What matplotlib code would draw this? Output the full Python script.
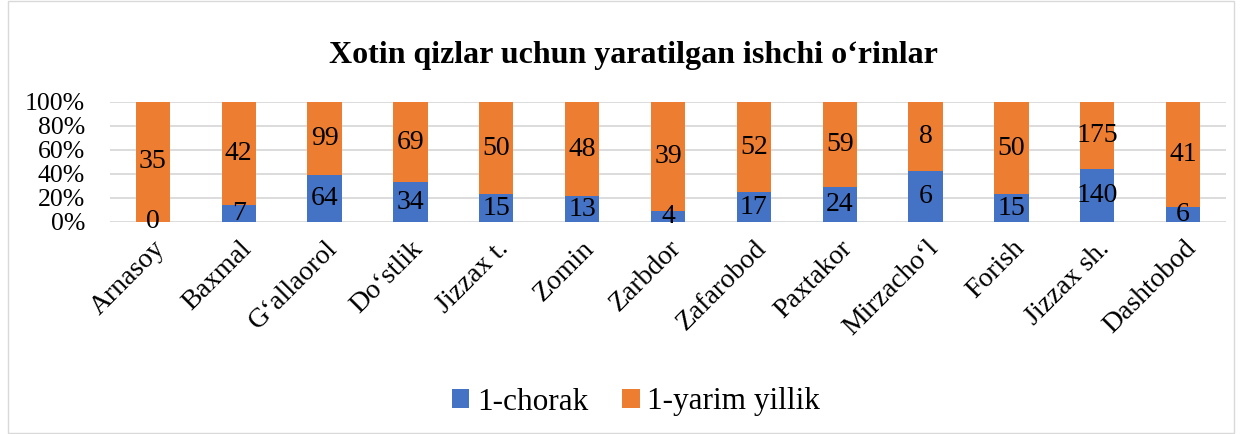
import numpy as np
from matplotlib import pyplot as plt
from matplotlib.patches import Rectangle

plt.rcParams['font.family'] = ['Liberation Serif', 'DejaVu Serif']

#--------données----------------
tumanlar = ['Arnasoy', 'Baxmal', 'G\u2018allaorol', 'Do\u2018stlik', 'Jizzax t.', 'Zomin',
            'Zarbdor', 'Zafarobod', 'Paxtakor', 'Mirzacho\u2018l', 'Forish', 'Jizzax sh.', 'Dashtobod']
chorak = [0, 7, 64, 34, 15, 13, 4, 17, 24, 6, 15, 140, 6]
yarim = [35, 42, 99, 69, 50, 48, 39, 52, 59, 8, 50, 175, 41]

#--------pourcentages-------------
c = np.array(chorak, dtype=float)
y = np.array(yarim, dtype=float)
tot = c + y
pc = c / tot * 100
py = y / tot * 100

fig = plt.figure(figsize=(12.42, 4.34), dpi=100)
ax = fig.add_axes([110/1242, 1-222/434, 1116/1242, 120/434])

x = np.arange(len(tumanlar))
b1 = ax.bar(x, pc, 0.4, color='#4472C4', label='1-chorak', zorder=3)
b2 = ax.bar(x, py, 0.4, bottom=pc, color='#ED7D31', label='1-yarim yillik', zorder=3)

for i in range(len(x)):
    ax.text(x[i], pc[i]/2, str(chorak[i]), ha='center', va='center', fontsize=20, zorder=4)
    ax.text(x[i], pc[i]+py[i]/2, str(yarim[i]), ha='center', va='center', fontsize=20, zorder=4)

ax.set_xlim(-0.5, len(x)-0.5)
ax.set_ylim(0, 100)
ax.set_yticks(np.arange(0, 101, 20))
ax.set_yticklabels([str(v)+'%' for v in range(0, 101, 20)], fontsize=18.5)
ax.set_xticks(x)
ax.set_xticklabels(tumanlar, rotation=45, ha='right', rotation_mode='anchor', fontsize=20)
ax.tick_params(length=0)
ax.tick_params(axis='y', pad=18)
ax.tick_params(axis='x', pad=10)
ax.grid(axis='y', color='#D9D9D9', linewidth=1.3, zorder=0)
for s in ax.spines.values():
    s.set_visible(False)

fig.text(633/1242, 1-55/434, 'Xotin qizlar uchun yaratilgan ishchi o\u2018rinlar',
         ha='center', va='center', fontsize=23, fontweight='bold')

fig.legend(handles=[b1, b2], loc='center', bbox_to_anchor=(636/1242, 1-402/434), ncol=2,
           frameon=False, fontsize=22.5, handlelength=0.55, handleheight=0.55,
           handletextpad=0.25, columnspacing=1.1)

fig.patches.append(Rectangle((8/1242, 0.002), 1226/1242, 0.996, transform=fig.transFigure,
                             fill=False, edgecolor='#D9D9D9', linewidth=1))

fig.savefig('out.png', dpi=100)
